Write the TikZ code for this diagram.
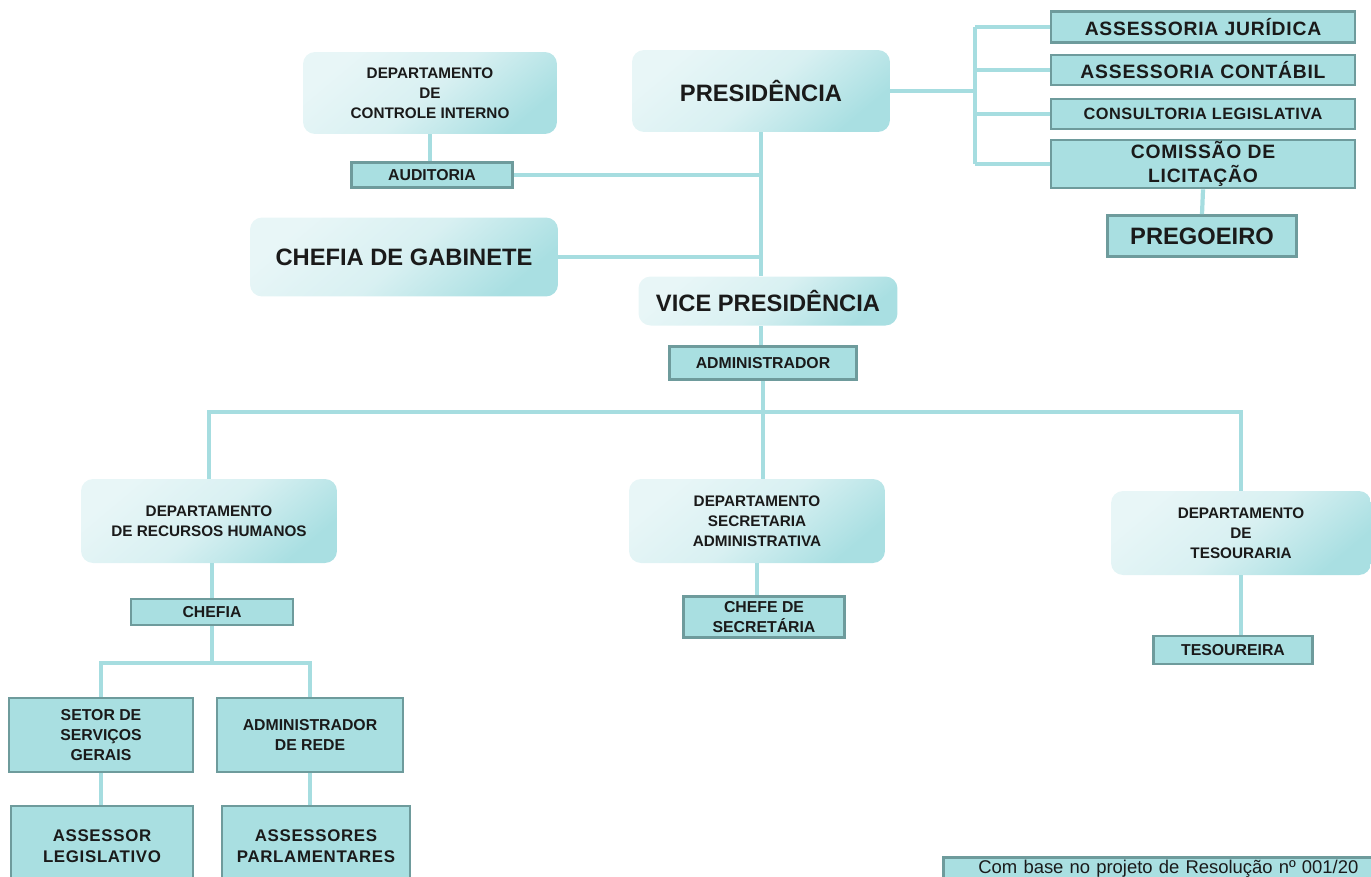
\documentclass[tikz,border=0pt]{standalone}
\usepackage{fontspec}
\setmainfont{Liberation Sans}
\usetikzlibrary{calc}
\definecolor{boxfill}{HTML}{A9DFE1}
\definecolor{boxline}{HTML}{6E9B9C}
\definecolor{linkcol}{HTML}{A6DDE0}
\definecolor{softlight}{HTML}{E8F6F7}
\definecolor{softdark}{HTML}{A9DFE2}
\definecolor{txt}{HTML}{1A1A1A}
\newcommand{\dptfont}{\fontsize{8.7}{11.3}\selectfont\bfseries}
\newcommand{\bigfont}{\fontsize{13.5}{16}\selectfont\bfseries}
\newcommand{\smallfont}{\fontsize{9}{11.5}\selectfont\bfseries}
\newcommand{\widefont}{\fontsize{11}{13.6}\selectfont\bfseries\addfontfeature{LetterSpace=4}}
\newcommand{\consfont}{\fontsize{9.3}{11}\selectfont\bfseries\addfontfeature{LetterSpace=3}}
\newcommand{\lowfont}{\fontsize{9.6}{12}\selectfont\bfseries\addfontfeature{LetterSpace=4}}
\tikzset{
  softbox/.style={rounded corners=0.24cm, top color=softlight, bottom color=softdark,
    middle color=softlight!75!softdark, shading angle=40, align=center,
    inner sep=0pt, text=txt, font=\dptfont},
  rectbox/.style={draw=boxline, line width=1.6pt, fill=boxfill, align=center,
    inner sep=0pt, text=txt, font=\smallfont},
  link/.style={draw=linkcol, line width=2.4pt}
}

\begin{document}
\begin{tikzpicture}[x=0.02cm, y=-0.02cm]
    \useasboundingbox (0,0) rectangle (1371,876);
    \clip (0,0) rectangle (1371,876);

    \node[softbox, minimum width=5.08cm, minimum height=1.64cm] (ctrl) at (430,93) {DEPARTAMENTO\\DE\\CONTROLE INTERNO};
    \node[softbox, minimum width=5.16cm, minimum height=1.64cm, font=\bigfont] (pres) at (761,91) {PRESIDÊNCIA};
    \node[softbox, minimum width=6.16cm, minimum height=1.58cm, font=\bigfont] (gab) at (404,257) {CHEFIA DE GABINETE};
    \node[softbox, minimum width=5.18cm, minimum height=0.98cm, font=\bigfont] (vice) at (768,301) {VICE PRESIDÊNCIA};

    \node[rectbox, minimum width=3.22cm, minimum height=0.5cm] (aud) at (432,175) {AUDITORIA};
    \node[rectbox, minimum width=3.74cm, minimum height=0.66cm] (adm) at (763,363) {ADMINISTRADOR};

    \node[rectbox, minimum width=6.08cm, minimum height=0.62cm, font=\widefont] (jur) at (1203,27) {ASSESSORIA JURÍDICA};
    \node[rectbox, minimum width=6.08cm, minimum height=0.6cm, font=\widefont] (cont) at (1203,70) {ASSESSORIA CONTÁBIL};
    \node[rectbox, minimum width=6.08cm, minimum height=0.6cm, font=\consfont] (cons) at (1203,114) {CONSULTORIA LEGISLATIVA};
    \node[rectbox, minimum width=6.08cm, minimum height=0.96cm, font=\widefont] (com) at (1203,164) {COMISSÃO DE\\LICITAÇÃO};
    \node[rectbox, minimum width=3.78cm, minimum height=0.82cm, font=\bigfont] (preg) at (1202,236) {PREGOEIRO};

    \node[softbox, minimum width=5.12cm, minimum height=1.68cm] (rh) at (209,521) {DEPARTAMENTO\\DE RECURSOS HUMANOS};
    \node[softbox, minimum width=5.12cm, minimum height=1.68cm] (secadm) at (757,521) {DEPARTAMENTO\\SECRETARIA\\ADMINISTRATIVA};
    \node[softbox, minimum width=5.2cm, minimum height=1.68cm] (tes) at (1241,533) {DEPARTAMENTO\\DE\\TESOURARIA};

    \node[rectbox, minimum width=3.24cm, minimum height=0.52cm] (chefia) at (212,612) {CHEFIA};
    \node[rectbox, minimum width=3.22cm, minimum height=0.82cm] (chefsec) at (764,617) {CHEFE DE\\SECRETÁRIA};
    \node[rectbox, minimum width=3.18cm, minimum height=0.56cm] (tesra) at (1233,650) {TESOUREIRA};

    \node[rectbox, minimum width=3.68cm, minimum height=1.48cm] (setor) at (101,735) {SETOR DE\\SERVIÇOS\\GERAIS};
    \node[rectbox, minimum width=3.72cm, minimum height=1.48cm] (rede) at (310,735) {ADMINISTRADOR\\DE REDE};
    \node[rectbox, minimum width=3.64cm, minimum height=1.6cm, font=\lowfont] (asleg) at (102,846) {ASSESSOR\\LEGISLATIVO};
    \node[rectbox, minimum width=3.76cm, minimum height=1.6cm, font=\lowfont] (aspar) at (316,846) {ASSESSORES\\PARLAMENTARES};

    \node[rectbox, anchor=north west, text width=9cm, inner xsep=0.7cm, minimum height=0.44cm, align=left,
      font=\fontsize{10.5}{12}\selectfont] (nota) at (942,856) {Com base no projeto de Resolução nº 001/20};

    \draw[link] (pres.south) -- (pres.south |- vice.north);
    \draw[link] (pres.south |- vice.south) -- (pres.south |- adm.north);
    \draw[link] (aud.east) -- (aud.east -| pres.south);
    \draw[link] (gab.east) -- (gab.east -| pres.south);
    \draw[link] (ctrl.south) -- (ctrl.south |- aud.north);

    \coordinate (rbus) at (975,91);
    \draw[link] (pres.east) -- (rbus);
    \draw[link] (rbus |- jur.west) -- (rbus |- com.west);
    \draw[link] (rbus |- jur.west) -- (jur.west);
    \draw[link] (rbus |- cont.west) -- (cont.west);
    \draw[link] (rbus |- cons.west) -- (cons.west);
    \draw[link] (rbus |- com.west) -- (com.west);
    \draw[link] (com.south) -- (preg.north);

    \coordinate (bus) at (763,412);
    \draw[link] (adm.south) -- (bus);
    \draw[link] (rh.north) |- (bus) -| (tes.north);
    \draw[link] (bus) -- (bus |- secadm.north);

    \draw[link] (chefia.north |- rh.south) -- (chefia.north);
    \draw[link] (secadm.south) -- (secadm.south |- chefsec.north);
    \draw[link] (tes.south) -- (tes.south |- tesra.north);

    \coordinate (cbus) at (212,663);
    \draw[link] (chefia.south) -- (cbus);
    \draw[link] (setor.north) |- (cbus) -| (rede.north);
    \draw[link] (setor.south) -- (setor.south |- asleg.north);
    \draw[link] (rede.south) -- (rede.south |- aspar.north);
  \end{tikzpicture}
\end{document}
